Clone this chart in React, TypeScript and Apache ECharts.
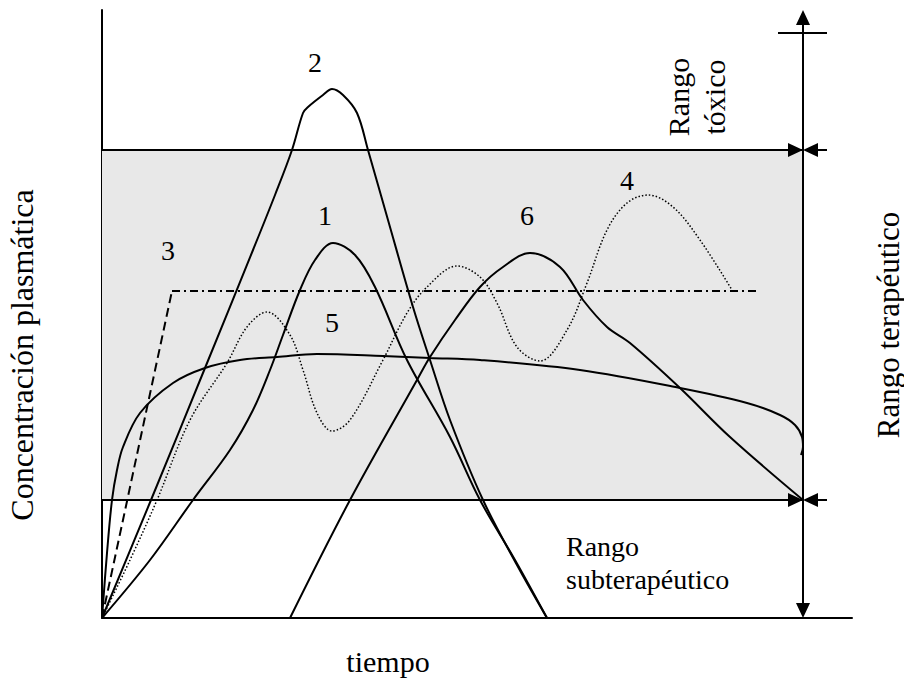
import React, { useEffect, useRef } from "react";
import * as echarts from "echarts";

// Axis extents (time, concentration) in arbitrary units
const X_MAX = 750;
const Y_MAX = 608;

// Therapeutic range
const bandLow = 118;
const bandHigh = 468;
const bandEnd = 701;
const toxicTop = 585;

// Curves [time, concentration]
const curve1: number[][] = [[0,0],[48,58],[91,118],[128,168],[151,208],[168,248],[181,283],[198,328],[213,358],[231,375],[253,363],[273,331],[305,258],[348,181],[378,118],[413,58],[445,0]];
const curve2: number[][] = [[0,0],[49,118],[103,250],[151,368],[173,423],[190,468],[201,505],[206,511],[221,523],[230,529],[241,523],[255,505],[266,468],[286,398],[311,311],[328,258],[348,198],[381,118],[415,53],[445,0]];
const curve3Rise: number[][] = [[0,0],[70,327]];
const curve3Plateau: number[][] = [[70,327],[655,327]];
const curve4: number[][] = [[0,0],[28,58],[55,118],[88,198],[125,255],[145,291],[165,306],[188,283],[201,248],[215,205],[230,187],[248,198],[281,258],[305,305],[325,331],[355,352],[378,341],[395,315],[415,271],[438,257],[465,288],[485,335],[505,388],[525,415],[546,423],[571,411],[598,378],[630,328]];
const curve5: number[][] = [[0,0],[5,65],[10,118],[15,148],[21,171],[38,205],[71,235],[103,250],[138,258],[175,261],[215,264],[281,262],[328,260],[378,258],[478,248],[578,230],[645,215],[678,203],[693,193],[700,181],[701,171],[699,163]];
const curve6: number[][] = [[188,0],[248,118],[315,238],[328,261],[353,298],[378,331],[401,351],[428,365],[458,351],[481,318],[505,291],[528,275],[578,230],[628,181],[701,118]];

const curveLabels = ["1", "2", "3", "4", "5", "6"];
const yTitle = "Concentración plasmática";
const xTitle = "tiempo";
const toxicLines = ["Rango", "tóxico"];
const subLines = ["Rango", "subterapéutico"];
const therTitle = "Rango terapéutico";

const FONT = "'Liberation Serif', 'Times New Roman', serif";

export default function App() {
  const ref = useRef<HTMLDivElement>(null);
  useEffect(() => {
    if (!ref.current) return;
    const chart = echarts.init(ref.current, undefined, { renderer: "svg" });
    const solid = (data: number[][]) => ({
      type: "line",
      data,
      showSymbol: false,
      smooth: 0.35,
      lineStyle: { color: "#000", width: 2 },
      z: 3,
    });
    chart.setOption({
      animation: false,
      grid: { left: 102, right: 52, top: 10, bottom: 63 },
      xAxis: {
        type: "value", min: 0, max: X_MAX,
        axisLine: { show: true, lineStyle: { color: "#000", width: 2 } },
        axisTick: { show: false }, axisLabel: { show: false }, splitLine: { show: false },
      },
      yAxis: {
        type: "value", min: 0, max: Y_MAX,
        axisLine: { show: true, lineStyle: { color: "#000", width: 2 } },
        axisTick: { show: false }, axisLabel: { show: false }, splitLine: { show: false },
      },
      series: [
        {
          type: "line", data: [], z: 1,
          markArea: {
            silent: true,
            itemStyle: { color: "#e8e8e8" },
            data: [[{ coord: [0, bandLow] }, { coord: [bandEnd, bandHigh] }]],
          },
          markLine: {
            silent: true, symbol: "none", label: { show: false },
            lineStyle: { color: "#000", width: 2, type: "solid" },
            data: [
              [{ coord: [0, bandLow] }, { coord: [bandEnd, bandLow] }],
              [{ coord: [0, bandHigh] }, { coord: [bandEnd, bandHigh] }],
              [{ coord: [bandEnd, bandLow] }, { coord: [bandEnd, bandHigh] }],
            ],
          },
        },
        solid(curve1),
        solid(curve2),
        {
          type: "line", data: curve3Rise, showSymbol: false, z: 3,
          lineStyle: { color: "#000", width: 2, type: [9, 5] },
        },
        {
          type: "line", data: curve3Plateau, showSymbol: false, z: 3,
          lineStyle: { color: "#000", width: 1.8, type: [8, 4, 2, 4] },
        },
        {
          type: "line", data: curve4, showSymbol: false, smooth: 0.35, z: 3,
          lineStyle: { color: "#000", width: 1.5, type: [1.5, 2] },
        },
        solid(curve5),
        solid(curve6),
      ],
    });

    const px = (x: number, y: number) => chart.convertToPixel({ gridIndex: 0 }, [x, y]) as number[];
    const [rx, yTopPx] = px(bandEnd, Y_MAX);
    const yBottomPx = px(bandEnd, 0)[1];
    const yHi = px(bandEnd, bandHigh)[1];
    const yLo = px(bandEnd, bandLow)[1];
    const yTick = px(bandEnd, toxicTop)[1];
    const ls = { stroke: "#000", lineWidth: 2 };
    const fill = { fill: "#000" };
    const ah = 15, aw = 7;
    const txt = (text: string, x: number, y: number, size: number, rot = 0, align = "center") => ({
      type: "text", x, y, rotation: rot, z: 10,
      style: { text, fill: "#000", font: `${size}px ${FONT}`, textAlign: align, textVerticalAlign: "middle" },
    });
    const sideArrows = (y: number) => [
      { type: "polygon", shape: { points: [[rx, y], [rx - ah, y - aw], [rx - ah, y + aw]] }, style: fill, z: 10 },
      { type: "polygon", shape: { points: [[rx, y], [rx + ah, y - aw], [rx + ah, y + aw]] }, style: fill, z: 10 },
      { type: "line", shape: { x1: rx + ah, y1: y, x2: rx + 24, y2: y }, style: ls, z: 10 },
    ];
    chart.setOption({
      graphic: [
        { type: "line", shape: { x1: rx, y1: yTopPx + ah, x2: rx, y2: yBottomPx - ah }, style: ls, z: 10 },
        { type: "polygon", shape: { points: [[rx, yTopPx], [rx - aw, yTopPx + ah], [rx + aw, yTopPx + ah]] }, style: fill, z: 10 },
        { type: "polygon", shape: { points: [[rx, yBottomPx], [rx - aw, yBottomPx - ah], [rx + aw, yBottomPx - ah]] }, style: fill, z: 10 },
        { type: "line", shape: { x1: rx - 25, y1: yTick, x2: rx + 24, y2: yTick }, style: ls, z: 10 },
        ...sideArrows(yHi),
        ...sideArrows(yLo),
        txt(curveLabels[0], 325, 215, 28),
        txt(curveLabels[1], 315, 62, 28),
        txt(curveLabels[2], 168, 250, 28),
        txt(curveLabels[3], 627, 180, 28),
        txt(curveLabels[4], 332, 322, 28),
        txt(curveLabels[5], 527, 215, 28),
        txt(yTitle, 22, 355, 32, Math.PI / 2),
        txt(therTitle, 888, 325, 31, Math.PI / 2),
        txt(xTitle, 388, 661, 30),
        txt(toxicLines[0], 678, 97, 30, Math.PI / 2),
        txt(toxicLines[1], 714, 97, 30, Math.PI / 2),
        txt(subLines[0], 566, 546, 28, 0, "left"),
        txt(subLines[1], 566, 579, 28, 0, "left"),
      ],
    });
    return () => chart.dispose();
  }, []);
  return <div ref={ref} style={{ position: "absolute", left: 0, top: 0, width: 904, height: 681 }} />;
}
